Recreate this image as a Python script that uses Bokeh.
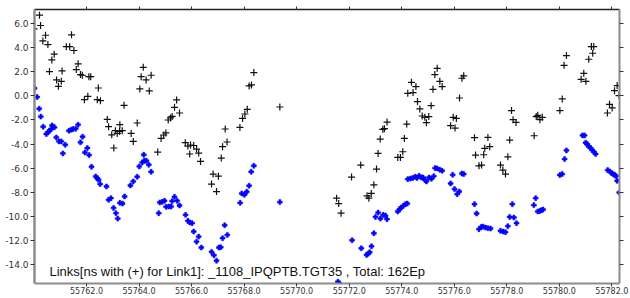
from bokeh.plotting import figure
from bokeh.models import LinearAxis, FixedTicker, PrintfTickFormatter, Range1d, Label, CustomLabelingPolicy
from bokeh.embed import file_html
from bokeh.resources import INLINE

# ---- data ----
black_x = [55760.00, 55760.21, 55760.25, 55760.34, 55760.44, 55760.53, 55760.59, 55760.68, 55760.77, 55760.86,
           55760.93, 55761.04, 55761.07, 55761.23, 55761.36, 55761.43, 55761.52, 55761.61, 55761.68, 55761.77,
           55761.84, 55761.92, 55762.05, 55762.09, 55762.16, 55762.41, 55762.45, 55762.53, 55762.79, 55762.84,
           55762.96, 55763.04, 55763.10, 55763.17, 55763.26, 55763.27, 55763.36, 55763.43, 55763.70, 55763.78,
           55763.93, 55764.03, 55764.08, 55764.16, 55764.27, 55764.39, 55764.46, 55764.71, 55764.84, 55764.94,
           55765.02, 55765.11, 55765.20, 55765.26, 55765.35, 55765.43, 55765.54, 55765.76, 55765.86, 55765.93,
           55765.96, 55766.08, 55766.19, 55766.27, 55766.34, 55766.76, 55766.82, 55766.95, 55767.02, 55767.13,
           55767.18, 55767.28, 55767.35, 55767.84, 55767.94, 55768.03, 55768.12, 55768.19, 55768.28, 55768.37,
           55769.36, 55771.52, 55771.60, 55771.69, 55772.09, 55772.44, 55772.68, 55772.75, 55772.84, 55772.94,
           55773.04, 55773.10, 55773.18, 55773.28, 55773.34, 55773.44, 55773.85, 55773.95, 55774.04, 55774.10,
           55774.19, 55774.23, 55774.37, 55774.43, 55774.54, 55774.60, 55774.69, 55774.78, 55774.88, 55774.94,
           55775.03, 55775.12, 55775.19, 55775.26, 55775.35, 55775.45, 55775.54, 55775.86, 55775.96, 55776.03,
           55776.08, 55776.20, 55776.29, 55776.36, 55776.77, 55776.81, 55776.94, 55777.04, 55777.12, 55777.16,
           55777.28, 55777.35, 55777.76, 55777.85, 55777.95, 55778.04, 55778.11, 55778.18, 55778.24, 55778.35,
           55779.04, 55779.12, 55779.18, 55779.26, 55779.35, 55780.02, 55780.11, 55780.18, 55780.27, 55780.83,
           55780.93, 55781.01, 55781.12, 55781.22, 55781.27, 55781.31, 55781.83, 55781.91, 55782.01, 55782.10,
           55782.20, 55782.27]
black_y = [5.58, 6.72, 5.86, 4.58, 5.05, 4.27, 2.03, 3.00, 3.47, 1.33,
           0.80, 1.22, 2.08, 4.10, 4.10, 5.08, 3.78, 2.19, 2.67, 1.78,
           1.72, -0.31, -0.03, 1.60, 1.60, -0.31, 0.66, -0.39, -1.95, -2.56,
           -3.23, -4.33, -2.89, -3.12, -2.95, -2.39, -2.89, -0.78, -3.12, -3.78,
           -2.25, 0.58, 1.60, 2.38, 1.33, 0.42, 1.72, -4.67, -3.53, -3.25,
           -3.08, -2.00, -1.83, -1.70, -0.95, -0.33, -1.42, -3.89, -4.17, -4.83,
           -4.08, -4.12, -4.42, -4.75, -5.45, -7.33, -6.50, -7.95, -6.67, -5.17,
           -4.22, -2.75, -3.83, -2.62, -1.87, -1.50, -1.11, 0.83, 0.92, 1.94,
           -0.92, -8.50, -8.95, -9.75, -6.75, -5.75, -8.31, -8.50, -8.11, -7.39,
           -6.08, -4.78, -3.59, -2.78, -2.72, -2.17, -5.11, -5.11, -4.64, -3.53,
           -2.34, 0.22, 1.13, 0.28, 0.78, -0.47, -1.08, -1.67, -1.78, -2.22,
           -1.72, -0.81, 0.55, 1.78, 2.30, 1.22, 0.78, -2.47, -1.78, -2.67,
           -1.87, -0.17, 1.47, 1.67, -3.47, -4.92, -5.81, -5.75, -4.89, -4.36,
           -3.45, -4.22, -5.75, -6.17, -6.50, -5.06, -3.67, -1.22, -1.97, -2.20,
           -3.31, -1.72, -1.61, -1.97, -1.78, -1.22, -0.25, 2.55, 3.36, 1.38,
           1.88, 1.22, 3.05, 4.11, 3.55, 4.11, -1.42, -0.70, -1.00, 0.44,
           0.86, 0.03]

blue_x = [55760.02, 55760.12, 55760.20, 55760.26, 55760.35, 55760.47, 55760.53, 55760.59, 55760.66, 55760.69,
          55760.78, 55760.85, 55760.95, 55761.04, 55761.10, 55761.19, 55761.33, 55761.42, 55761.49, 55761.59,
          55761.68, 55761.77, 55761.85, 55761.94, 55762.03, 55762.10, 55762.19, 55762.35, 55762.42, 55762.46,
          55762.52, 55762.76, 55762.84, 55762.93, 55763.03, 55763.12, 55763.19, 55763.27, 55763.37, 55763.45,
          55763.67, 55763.78, 55763.93, 55764.01, 55764.12, 55764.18, 55764.20, 55764.28, 55764.37, 55764.46,
          55764.75, 55764.79, 55764.88, 55764.97, 55765.03, 55765.13, 55765.22, 55765.26, 55765.35, 55765.45,
          55765.54, 55765.77, 55765.86, 55765.93, 55766.02, 55766.08, 55766.19, 55766.27, 55766.37, 55766.76,
          55766.85, 55766.95, 55767.04, 55767.11, 55767.18, 55767.26, 55767.36, 55767.85, 55767.91, 55768.01,
          55768.10, 55768.19, 55768.27, 55768.37, 55769.36, 55771.57, 55771.63, 55772.11, 55772.46, 55772.66,
          55772.72, 55772.78, 55772.85, 55772.94, 55773.00, 55773.10, 55773.19, 55773.29, 55773.38, 55773.44,
          55773.85, 55773.92, 55773.98, 55774.06, 55774.14, 55774.21, 55774.23, 55774.33, 55774.42, 55774.51,
          55774.58, 55774.66, 55774.74, 55774.81, 55774.89, 55774.94, 55775.04, 55775.13, 55775.22, 55775.27,
          55775.35, 55775.45, 55775.54, 55775.86, 55775.94, 55776.01, 55776.11, 55776.19, 55776.29, 55776.36,
          55776.77, 55776.85, 55776.94, 55777.03, 55777.10, 55777.19, 55777.28, 55777.38, 55777.76, 55777.86,
          55777.95, 55778.04, 55778.11, 55778.21, 55778.27, 55778.37, 55779.03, 55779.10, 55779.18, 55779.26,
          55779.32, 55779.38, 55780.02, 55780.11, 55780.20, 55780.27, 55780.88, 55780.96, 55781.00, 55781.06,
          55781.12, 55781.19, 55781.25, 55781.31, 55781.38, 55781.84, 55781.92, 55781.99, 55782.05, 55782.11,
          55782.16, 55782.20, 55782.28]
blue_y = [0.64, -0.09, -1.06, -1.72, -2.56, -3.17, -3.03, -2.89, -2.75, -2.45,
          -2.61, -3.45, -3.78, -3.78, -4.78, -4.06, -2.89, -2.81, -2.75, -2.72,
          -2.39, -3.86, -3.39, -4.70, -4.33, -4.92, -5.89, -6.70, -6.87, -6.98,
          -7.33, -7.53, -8.64, -8.50, -9.31, -9.75, -10.20, -8.89, -8.95, -8.36,
          -7.45, -7.11, -6.72, -5.86, -5.53, -4.89, -5.39, -5.39, -5.72, -6.31,
          -9.75, -8.86, -8.81, -8.72, -9.22, -9.20, -9.20, -8.75, -8.39, -8.72,
          -9.11, -9.89, -10.39, -10.53, -10.58, -11.28, -12.12, -11.70, -12.61, -12.97,
          -13.25, -13.70, -12.61, -12.58, -11.83, -10.75, -11.56, -8.89, -8.11, -8.22,
          -7.97, -7.47, -6.31, -5.81, -8.83, -15.45, -15.60, -12.00, -12.67, -13.22,
          -13.12, -13.00, -12.50, -11.42, -10.06, -9.70, -10.20, -9.89, -9.95, -10.25,
          -9.61, -9.42, -9.28, -9.14, -9.00, -8.95, -6.92, -6.87, -6.83, -6.72,
          -6.83, -6.64, -6.78, -6.78, -7.00, -7.11, -6.78, -6.89, -6.67, -6.00,
          -6.03, -6.14, -6.22, -7.28, -6.56, -7.75, -8.17, -7.95, -6.45, -6.50,
          -9.00, -9.78, -11.08, -10.89, -10.87, -10.95, -11.00, -11.03, -11.22, -11.28,
          -11.33, -10.83, -10.06, -9.00, -10.11, -10.58, -9.08, -8.50, -9.61, -9.56,
          -9.50, -9.45, -6.58, -6.50, -5.25, -4.53, -3.28, -3.28, -3.89, -4.00,
          -4.20, -4.33, -4.50, -4.64, -4.83, -6.17, -6.28, -6.42, -6.50, -6.58,
          -6.67, -7.06, -8.03]

x_ticks = [55762, 55764, 55766, 55768, 55770, 55772, 55774, 55776, 55778, 55780, 55782]
top_ticks = [55760] + x_ticks
y_ticks = [6, 4, 2, 0, -2, -4, -6, -8, -10, -12, -14]
caption = "Links[ns with (+) for Link1]: _1108_IPQPTB.TGT35 , Total: 162Ep"

p = figure(width=630, height=298, output_backend="svg", toolbar_location=None,
           x_range=Range1d(55760.02, 55782.29), y_range=Range1d(-15.6, 7.19),
           x_axis_location=None, y_axis_location=None,
           min_border_left=34, min_border_top=9, min_border_right=11, min_border_bottom=15)
p.xgrid.visible = False
p.ygrid.visible = False
p.outline_line_color = None
p.background_fill_color = "white"
p.border_fill_color = "white"

no_labels = CustomLabelingPolicy(code="""
for (const i of Array.from(indices)) { indices.unset(i) }
return indices
""")

def mk_axis(ticks, show_labels, color, width, t_in, t_out, fs="8px", standoff=2):
    ax = LinearAxis(ticker=FixedTicker(ticks=ticks), formatter=PrintfTickFormatter(format="%.1f"))
    ax.axis_line_color = color
    ax.axis_line_width = width
    ax.major_tick_line_color = "#333333"
    ax.major_tick_in = t_in
    ax.major_tick_out = t_out
    ax.minor_tick_line_color = None
    if show_labels:
        ax.major_label_text_font = "DejaVu Sans"
        ax.major_label_text_font_size = fs
        ax.major_label_text_color = "#333333"
        ax.major_label_standoff = standoff
    else:
        ax.major_label_policy = no_labels
        ax.major_label_text_font_size = "0px"
        ax.major_label_standoff = 0
    return ax

left = mk_axis(y_ticks, True, "#8c8c8c", 2.5, 0, 4, "9px", 2)
right = mk_axis(y_ticks, False, "#8c8c8c", 2, 0, 4)
top = mk_axis(top_ticks, False, "#222222", 1.5, 0, 3)
bottom = mk_axis(x_ticks, True, "#8c8c8c", 2, 0, 3, "8px", 0)
p.add_layout(left, "left")
p.add_layout(right, "right")
p.add_layout(top, "above")
p.add_layout(bottom, "below")

p.scatter(blue_x, blue_y, marker="plus", size=5, fill_color="#0000ff", line_color="#0000ff", line_width=0.5)
p.scatter(black_x, black_y, marker="cross", size=7, line_color="#111111", line_width=1.2)

p.add_layout(Label(x=55760.59, y=-14.6, text=caption, text_font="Liberation Sans",
                   text_font_size="13px", text_color="#111111", text_baseline="alphabetic"))

open("out.html", "w").write(file_html(p, INLINE))
